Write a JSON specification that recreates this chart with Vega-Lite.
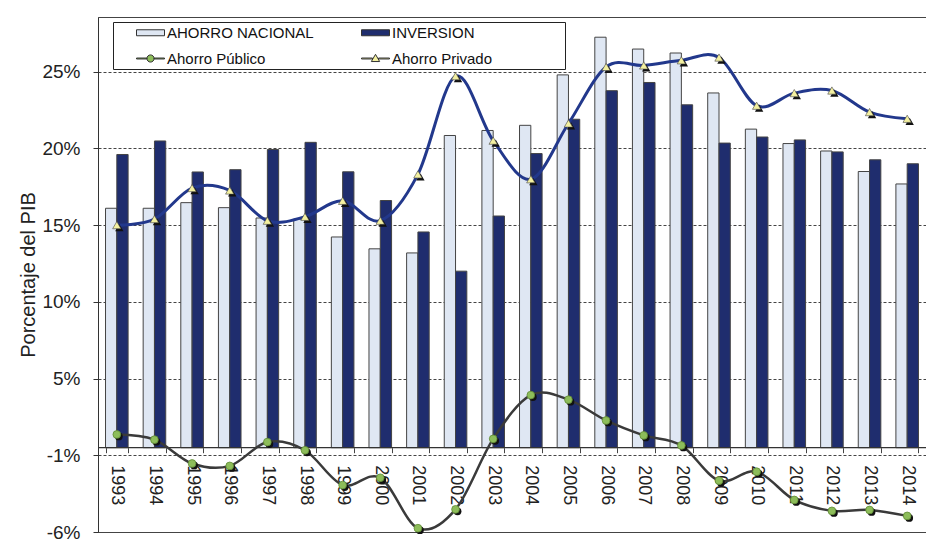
{
  "$schema": "https://vega.github.io/schema/vega-lite/v6.json",
  "width": 828,
  "height": 515,
  "autosize": {"type": "none"},
  "padding": {"left": 98, "top": 17, "right": 0, "bottom": 9},
  "background": "white",
  "config": {
    "font": "Liberation Sans",
    "view": {"stroke": "#444", "strokeWidth": 1}
  },
  "data": {
    "values": [
      {"anio": "1993", "serie": "AHORRO NACIONAL", "valor": 15.76},
      {"anio": "1994", "serie": "AHORRO NACIONAL", "valor": 15.76},
      {"anio": "1995", "serie": "AHORRO NACIONAL", "valor": 16.13},
      {"anio": "1996", "serie": "AHORRO NACIONAL", "valor": 15.80},
      {"anio": "1997", "serie": "AHORRO NACIONAL", "valor": 15.12},
      {"anio": "1998", "serie": "AHORRO NACIONAL", "valor": 15.05},
      {"anio": "1999", "serie": "AHORRO NACIONAL", "valor": 13.87},
      {"anio": "2000", "serie": "AHORRO NACIONAL", "valor": 13.09},
      {"anio": "2001", "serie": "AHORRO NACIONAL", "valor": 12.82},
      {"anio": "2002", "serie": "AHORRO NACIONAL", "valor": 20.55},
      {"anio": "2003", "serie": "AHORRO NACIONAL", "valor": 20.88},
      {"anio": "2004", "serie": "AHORRO NACIONAL", "valor": 21.22},
      {"anio": "2005", "serie": "AHORRO NACIONAL", "valor": 24.54},
      {"anio": "2006", "serie": "AHORRO NACIONAL", "valor": 27.02},
      {"anio": "2007", "serie": "AHORRO NACIONAL", "valor": 26.24},
      {"anio": "2008", "serie": "AHORRO NACIONAL", "valor": 25.98},
      {"anio": "2009", "serie": "AHORRO NACIONAL", "valor": 23.35},
      {"anio": "2010", "serie": "AHORRO NACIONAL", "valor": 20.97},
      {"anio": "2011", "serie": "AHORRO NACIONAL", "valor": 20.02},
      {"anio": "2012", "serie": "AHORRO NACIONAL", "valor": 19.53},
      {"anio": "2013", "serie": "AHORRO NACIONAL", "valor": 18.18},
      {"anio": "2014", "serie": "AHORRO NACIONAL", "valor": 17.36},

      {"anio": "1993", "serie": "INVERSION", "valor": 19.30},
      {"anio": "1994", "serie": "INVERSION", "valor": 20.19},
      {"anio": "1995", "serie": "INVERSION", "valor": 18.15},
      {"anio": "1996", "serie": "INVERSION", "valor": 18.30},
      {"anio": "1997", "serie": "INVERSION", "valor": 19.63},
      {"anio": "1998", "serie": "INVERSION", "valor": 20.10},
      {"anio": "1999", "serie": "INVERSION", "valor": 18.16},
      {"anio": "2000", "serie": "INVERSION", "valor": 16.27},
      {"anio": "2001", "serie": "INVERSION", "valor": 14.20},
      {"anio": "2002", "serie": "INVERSION", "valor": 11.62},
      {"anio": "2003", "serie": "INVERSION", "valor": 15.25},
      {"anio": "2004", "serie": "INVERSION", "valor": 19.36},
      {"anio": "2005", "serie": "INVERSION", "valor": 21.62},
      {"anio": "2006", "serie": "INVERSION", "valor": 23.50},
      {"anio": "2007", "serie": "INVERSION", "valor": 24.04},
      {"anio": "2008", "serie": "INVERSION", "valor": 22.57},
      {"anio": "2009", "serie": "INVERSION", "valor": 20.05},
      {"anio": "2010", "serie": "INVERSION", "valor": 20.45},
      {"anio": "2011", "serie": "INVERSION", "valor": 20.26},
      {"anio": "2012", "serie": "INVERSION", "valor": 19.47},
      {"anio": "2013", "serie": "INVERSION", "valor": 18.95},
      {"anio": "2014", "serie": "INVERSION", "valor": 18.69},

      {"anio": "1993", "serie": "Ahorro Público", "valor": 0.87},
      {"anio": "1994", "serie": "Ahorro Público", "valor": 0.53},
      {"anio": "1995", "serie": "Ahorro Público", "valor": -1.04},
      {"anio": "1996", "serie": "Ahorro Público", "valor": -1.20},
      {"anio": "1997", "serie": "Ahorro Público", "valor": 0.37},
      {"anio": "1998", "serie": "Ahorro Público", "valor": -0.17},
      {"anio": "1999", "serie": "Ahorro Público", "valor": -2.46},
      {"anio": "2000", "serie": "Ahorro Público", "valor": -1.98},
      {"anio": "2001", "serie": "Ahorro Público", "valor": -5.30},
      {"anio": "2002", "serie": "Ahorro Público", "valor": -4.06},
      {"anio": "2003", "serie": "Ahorro Público", "valor": 0.58},
      {"anio": "2004", "serie": "Ahorro Público", "valor": 3.46},
      {"anio": "2005", "serie": "Ahorro Público", "valor": 3.16},
      {"anio": "2006", "serie": "Ahorro Público", "valor": 1.79},
      {"anio": "2007", "serie": "Ahorro Público", "valor": 0.81},
      {"anio": "2008", "serie": "Ahorro Público", "valor": 0.15},
      {"anio": "2009", "serie": "Ahorro Público", "valor": -2.17},
      {"anio": "2010", "serie": "Ahorro Público", "valor": -1.58},
      {"anio": "2011", "serie": "Ahorro Público", "valor": -3.44},
      {"anio": "2012", "serie": "Ahorro Público", "valor": -4.16},
      {"anio": "2013", "serie": "Ahorro Público", "valor": -4.10},
      {"anio": "2014", "serie": "Ahorro Público", "valor": -4.49},

      {"anio": "1993", "serie": "Ahorro Privado", "valor": 14.65},
      {"anio": "1994", "serie": "Ahorro Privado", "valor": 15.05},
      {"anio": "1995", "serie": "Ahorro Privado", "valor": 17.09},
      {"anio": "1996", "serie": "Ahorro Privado", "valor": 16.93},
      {"anio": "1997", "serie": "Ahorro Privado", "valor": 14.94},
      {"anio": "1998", "serie": "Ahorro Privado", "valor": 15.20},
      {"anio": "1999", "serie": "Ahorro Privado", "valor": 16.25},
      {"anio": "2000", "serie": "Ahorro Privado", "valor": 14.94},
      {"anio": "2001", "serie": "Ahorro Privado", "valor": 17.99},
      {"anio": "2002", "serie": "Ahorro Privado", "valor": 24.45},
      {"anio": "2003", "serie": "Ahorro Privado", "valor": 20.21},
      {"anio": "2004", "serie": "Ahorro Privado", "valor": 17.67},
      {"anio": "2005", "serie": "Ahorro Privado", "valor": 21.34},
      {"anio": "2006", "serie": "Ahorro Privado", "valor": 25.06},
      {"anio": "2007", "serie": "Ahorro Privado", "valor": 25.16},
      {"anio": "2008", "serie": "Ahorro Privado", "valor": 25.50},
      {"anio": "2009", "serie": "Ahorro Privado", "valor": 25.68},
      {"anio": "2010", "serie": "Ahorro Privado", "valor": 22.51},
      {"anio": "2011", "serie": "Ahorro Privado", "valor": 23.34},
      {"anio": "2012", "serie": "Ahorro Privado", "valor": 23.51},
      {"anio": "2013", "serie": "Ahorro Privado", "valor": 22.09},
      {"anio": "2014", "serie": "Ahorro Privado", "valor": 21.65}
    ]
  },
  "layer": [
    {
      "transform": [{"filter": {"field": "serie", "oneOf": ["AHORRO NACIONAL", "INVERSION"]}}],
      "mark": {"type": "bar", "stroke": "#444", "strokeWidth": 1},
      "encoding": {
        "x": {
          "field": "anio", "type": "nominal", "title": null,
          "scale": {"paddingInner": 0.4, "paddingOuter": 0.2},
          "axis": {
            "orient": "bottom", "offset": -84.3, "domain": false, "grid": false,
            "ticks": true, "tickBand": "extent", "tickSize": 5, "tickColor": "#444",
            "labelAngle": 90, "labelAlign": "left", "labelBaseline": "middle",
            "labelFontSize": 18, "labelColor": "#222", "labelPadding": 12, "labelDy": -3,
            "labelOverlap": false
          }
        },
        "xOffset": {"field": "serie", "type": "nominal", "scale": {"domain": ["AHORRO NACIONAL", "INVERSION"], "paddingInner": 0}},
        "y": {
          "field": "valor", "type": "quantitative", "title": "Porcentaje del PIB",
          "scale": {"domain": [-5.55, 28.35], "nice": false, "zero": false},
          "axis": {
            "values": [-5.55, -0.5, 4.55, 9.6, 14.65, 19.7, 24.75],
            "labelExpr": "(datum.value < 0 ? '-' : '') + format(abs(datum.value), '.0f') + '%'",
            "grid": true, "gridDash": [3, 2], "gridColor": "#444", "gridWidth": 1,
            "domainColor": "#333", "tickColor": "#333", "tickSize": 5,
            "labelFontSize": 19, "labelColor": "#222", "labelPadding": 13, "labelFlush": false,
            "titleFontSize": 20, "titleFontWeight": "normal", "titleColor": "#222", "titlePadding": 3
          }
        },
        "color": {
          "field": "serie", "type": "nominal",
          "scale": {
            "domain": ["AHORRO NACIONAL", "INVERSION", "Ahorro Público", "Ahorro Privado"],
            "range": ["#dfe7f3", "#1f2d6e", "#8dbd5a", "#f3f0a0"]
          },
          "legend": {
            "title": " ", "titleOrient": "right", "titlePadding": 71, "titleFontSize": 15,
            "orient": "none", "legendX": 15, "legendY": 5, "direction": "horizontal",
            "columns": 2, "gridAlign": "all", "columnPadding": 26, "rowPadding": 9,
            "padding": 2, "strokeColor": "#222", "fillColor": "white",
            "symbolSize": 256, "symbolOffset": 27, "labelOffset": 8,
            "symbolStrokeColor": "#333", "symbolStrokeWidth": 1, "symbolOpacity": 1,
            "labelFontSize": 15, "labelColor": "#111", "labelFont": "Liberation Sans"
          }
        }
      }
    },
    {
      "data": {"values": [{"cero": 0}]},
      "mark": {"type": "rule", "color": "#333", "strokeWidth": 1.2},
      "encoding": {
        "y": {"field": "cero", "type": "quantitative", "title": "Porcentaje del PIB"}
      }
    },
    {
      "transform": [{"filter": "datum.serie === 'Ahorro Público'"}],
      "mark": {"type": "line", "interpolate": "cardinal", "strokeWidth": 2.5, "color": "#3a3a3a"},
      "encoding": {
        "x": {"field": "anio", "type": "nominal", "title": null},
        "y": {"field": "valor", "type": "quantitative", "title": "Porcentaje del PIB"}
      }
    },
    {
      "transform": [{"filter": "datum.serie === 'Ahorro Público'"}],
      "mark": {"type": "point", "shape": "circle", "filled": true, "size": 60, "color": "#111", "opacity": 1, "xOffset": 2, "yOffset": 2},
      "encoding": {
        "x": {"field": "anio", "type": "nominal", "title": null},
        "y": {"field": "valor", "type": "quantitative", "title": "Porcentaje del PIB"}
      }
    },
    {
      "transform": [{"filter": "datum.serie === 'Ahorro Público'"}],
      "mark": {"type": "point", "shape": "circle", "filled": true, "size": 60, "fill": "#8dbd5a", "stroke": "#5f8a35", "strokeWidth": 0.8, "opacity": 1},
      "encoding": {
        "x": {"field": "anio", "type": "nominal", "title": null},
        "y": {"field": "valor", "type": "quantitative", "title": "Porcentaje del PIB"}
      }
    },
    {
      "transform": [{"filter": "datum.serie === 'Ahorro Privado'"}],
      "mark": {"type": "line", "interpolate": "cardinal", "strokeWidth": 3, "color": "#22388c"},
      "encoding": {
        "x": {"field": "anio", "type": "nominal", "title": null},
        "y": {"field": "valor", "type": "quantitative", "title": "Porcentaje del PIB"}
      }
    },
    {
      "transform": [{"filter": "datum.serie === 'Ahorro Privado'"}],
      "mark": {"type": "point", "shape": "triangle-up", "filled": true, "size": 70, "color": "#111", "opacity": 1, "xOffset": 2.5, "yOffset": 2.5},
      "encoding": {
        "x": {"field": "anio", "type": "nominal", "title": null},
        "y": {"field": "valor", "type": "quantitative", "title": "Porcentaje del PIB"}
      }
    },
    {
      "transform": [{"filter": "datum.serie === 'Ahorro Privado'"}],
      "mark": {"type": "point", "shape": "triangle-up", "filled": true, "size": 70, "fill": "#f3f0a0", "stroke": "#444", "strokeWidth": 0.6, "opacity": 1},
      "encoding": {
        "x": {"field": "anio", "type": "nominal", "title": null},
        "y": {"field": "valor", "type": "quantitative", "title": "Porcentaje del PIB"}
      }
    },
    {
      "transform": [{"filter": "false"}],
      "mark": {"type": "point", "filled": true, "opacity": 1, "fillOpacity": 1},
      "encoding": {
        "x": {"field": "anio", "type": "nominal", "title": null},
        "y": {"field": "valor", "type": "quantitative", "title": "Porcentaje del PIB"},
        "color": {"field": "serie", "type": "nominal"},
        "shape": {
          "field": "serie", "type": "nominal",
          "scale": {
            "domain": ["AHORRO NACIONAL", "INVERSION", "Ahorro Público", "Ahorro Privado"],
            "range": [
              "M-1.75,-0.375H1.75V0.375H-1.75Z",
              "M-1.75,-0.375H1.75V0.375H-1.75Z",
              "M-1.75,-0.06H-0.45V0.06H-1.75Z M0.45,-0.06H1.75V0.06H0.45Z M-0.45,0A0.45,0.45 0 1,0 0.45,0A0.45,0.45 0 1,0 -0.45,0Z",
              "M-1.75,-0.06H-0.38V0.06H-1.75Z M0.38,-0.06H1.75V0.06H0.38Z M0,-0.52L0.52,0.38L-0.52,0.38Z"
            ]
          }
        }
      }
    }
  ]
}
